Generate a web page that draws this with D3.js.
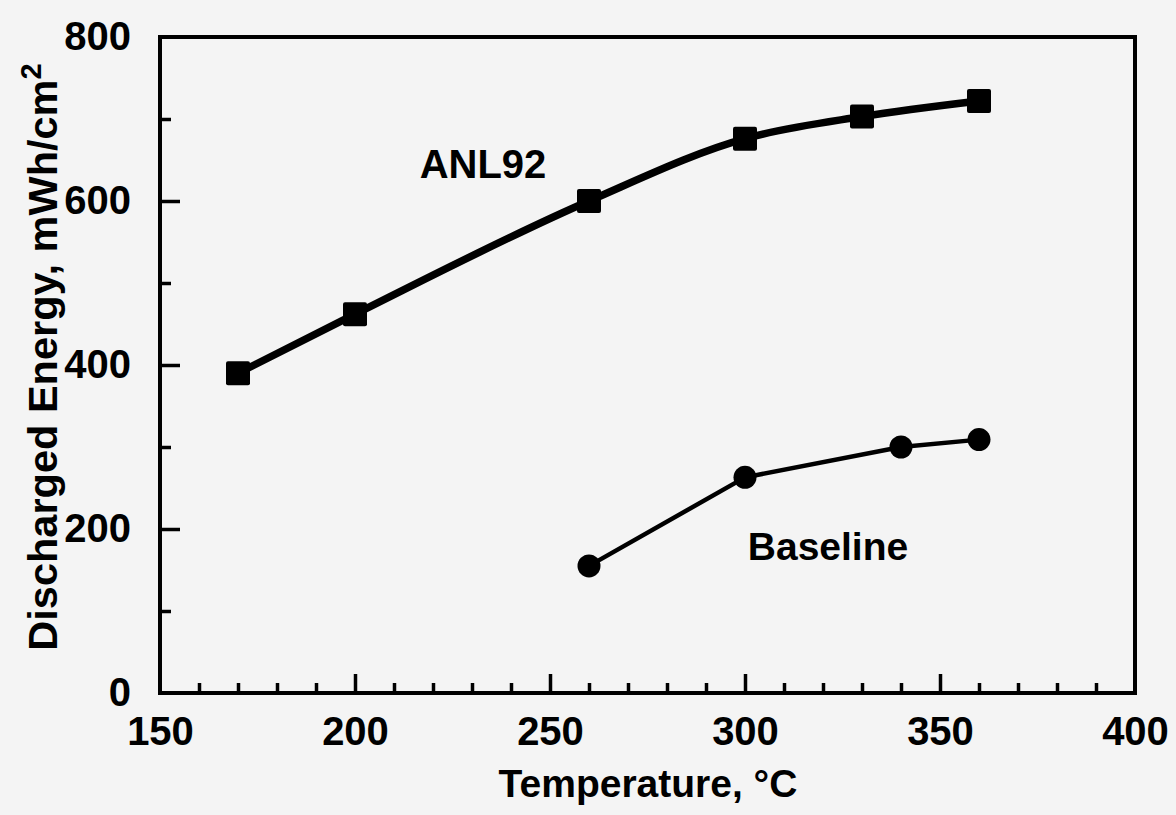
<!DOCTYPE html>
<html>
<head>
<meta charset="utf-8">
<script src="https://cdn.jsdelivr.net/npm/d3@7"></script>
<style>
  html, body { margin: 0; padding: 0; background: #f4f4f4; }
  svg { display: block; }
  text { font-family: "Liberation Sans", Arial, Helvetica, sans-serif; font-weight: bold; fill: #000; }
</style>
</head>
<body>
<svg id="chart" width="1176" height="815"></svg>
<script>
// ---- data ----
const anlTemps = [170, 200, 260, 300, 330, 360];
const anlEnergy = [390, 462, 600, 676, 703, 722];
const baseTemps = [260, 300, 340, 360];
const baseEnergy = [155, 263, 300, 309];
const xMajorTicks = [150, 200, 250, 300, 350, 400];
const xMinorTicks = [160, 170, 180, 190, 210, 220, 230, 240, 260, 270, 280, 290, 310, 320, 330, 340, 360, 370, 380, 390];
const yMajorTicks = [0, 200, 400, 600, 800];
const yMinorTicks = [100, 300, 500, 700];
const xTitle = "Temperature, °C";
const yTitle = "Discharged Energy, mWh/cm";
const seriesLabels = ["ANL92", "Baseline"];

// ---- layout ----
const svg = d3.select("#chart");
const L = 160, R = 1135, T = 37, B = 693;
const x = d3.scaleLinear().domain([150, 400]).range([L, R]);
const y = d3.scaleLinear().domain([0, 800]).range([B, T]);

// frame
svg.append("rect")
  .attr("x", L).attr("y", T).attr("width", R - L).attr("height", B - T)
  .attr("fill", "none").attr("stroke", "#000").attr("stroke-width", 4);

function styleAxis(g) {
  g.select(".domain").remove();
  g.selectAll(".tick line").attr("stroke", "#000").attr("stroke-width", 3.5);
}

// x minor ticks
svg.append("g").attr("transform", `translate(0,${B})`)
  .call(d3.axisBottom(x).tickValues(xMinorTicks).tickSize(-10).tickFormat(""))
  .call(styleAxis);
// x major ticks with labels
const gx = svg.append("g").attr("transform", `translate(0,${B})`)
  .call(d3.axisBottom(x).tickValues(xMajorTicks).tickSize(-19).tickSizeOuter(0).tickPadding(24).tickFormat(d3.format("d")))
  .call(styleAxis);
gx.selectAll(".tick text").attr("font-size", 40).attr("fill", "#000")
  .style("font-family", '"Liberation Sans", Arial, sans-serif').style("font-weight", "bold");

// y minor ticks
svg.append("g").attr("transform", `translate(${L},0)`)
  .call(d3.axisLeft(y).tickValues(yMinorTicks).tickSize(-11).tickFormat(""))
  .call(styleAxis);
// y major ticks with labels
const gy = svg.append("g").attr("transform", `translate(${L},0)`)
  .call(d3.axisLeft(y).tickValues(yMajorTicks).tickSize(-20).tickSizeOuter(0).tickPadding(29).tickFormat(d3.format("d")))
  .call(styleAxis);
gy.selectAll(".tick text").attr("font-size", 40).attr("fill", "#000")
  .style("font-family", '"Liberation Sans", Arial, sans-serif').style("font-weight", "bold");
gy.selectAll(".tick line").filter(d => d === 0 || d === 800).remove();
gx.selectAll(".tick line").filter(d => d === 150 || d === 400).remove();

// ---- series ----
const anl = anlTemps.map((t, i) => ({ t, e: anlEnergy[i] }));
const base = baseTemps.map((t, i) => ({ t, e: baseEnergy[i] }));

svg.append("path").datum(anl)
  .attr("fill", "none").attr("stroke", "#000").attr("stroke-width", 7.5)
  .attr("stroke-linejoin", "round")
  .attr("d", d3.line().x(d => x(d.t)).y(d => y(d.e)).curve(d3.curveMonotoneX));
svg.append("g").selectAll("rect").data(anl).join("rect")
  .attr("x", d => x(d.t) - 12).attr("y", d => y(d.e) - 12)
  .attr("width", 24).attr("height", 24).attr("rx", 2).attr("fill", "#000");

svg.append("path").datum(base)
  .attr("fill", "none").attr("stroke", "#000").attr("stroke-width", 4.5)
  .attr("stroke-linejoin", "round")
  .attr("d", d3.line().x(d => x(d.t)).y(d => y(d.e)));
svg.append("g").selectAll("circle").data(base).join("circle")
  .attr("cx", d => x(d.t)).attr("cy", d => y(d.e)).attr("r", 11.5).attr("fill", "#000");

// series labels
svg.append("text").attr("x", 483).attr("y", 178).attr("text-anchor", "middle")
  .attr("font-size", 40).text(seriesLabels[0]);
svg.append("text").attr("x", 828).attr("y", 560).attr("text-anchor", "middle")
  .attr("font-size", 39).text(seriesLabels[1]);

// axis titles
svg.append("text").attr("x", 648).attr("y", 797).attr("text-anchor", "middle")
  .attr("font-size", 39).text(xTitle);
const yt = svg.append("text").attr("transform", "translate(57,357) rotate(-90)")
  .attr("text-anchor", "middle").attr("font-size", 41.5);
yt.append("tspan").text(yTitle);
yt.append("tspan").attr("dy", -16).attr("font-size", 29).text("2");
</script>
</body>
</html>
